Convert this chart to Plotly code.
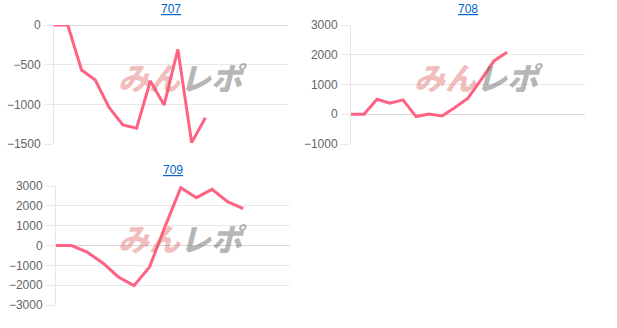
import plotly.graph_objects as go

W, H = 617, 328

titles = ["707", "708", "709"]
vals_707 = [0, 0, -567, -693, -1038, -1260, -1302, -706, -1008, -307, -1483, -1168]
vals_708 = [0, 0, 504, 370, 482, -78, 11, -56, 224, 538, 1154, 1793, 2084]
vals_709 = [0, 0, -337, -877, -1585, -2024, -1079, 978, 2917, 2411, 2833, 2209, 1855]
x_spans = [17, 18, 15]
y_ranges = [[-1500, 0], [-1000, 3000], [-3000, 3000]]
y_dticks = [500, 1000, 1000]
series = [vals_707, vals_708, vals_709]

# pixel boxes: (left, right, top, bottom)
boxes = [(54, 288, 25, 144), (351, 585, 25, 144), (56, 290, 186, 305)]
title_y = [9, 9, 170]
wm_center = [(182, 76), (478, 76), (182, 237)]

fig = go.Figure()
annotations = []
for i in range(3):
    l, r, t, b = boxes[i]
    xa = "x" if i == 0 else f"x{i+1}"
    ya = "y" if i == 0 else f"y{i+1}"
    xkey = "xaxis" if i == 0 else f"xaxis{i+1}"
    ykey = "yaxis" if i == 0 else f"yaxis{i+1}"
    fig.add_trace(go.Scatter(
        x=list(range(len(series[i]))), y=series[i], mode="lines",
        line=dict(color="#ff6384", width=3), xaxis=xa, yaxis=ya,
        cliponaxis=False, showlegend=False, hoverinfo="skip"))
    fig.layout[xkey] = dict(domain=[l / W, r / W], range=[0, x_spans[i]],
                            showgrid=False, zeroline=False, showticklabels=False,
                            showline=False, anchor=ya, fixedrange=True,
                            automargin=False)
    fig.layout[ykey] = dict(domain=[1 - b / H, 1 - t / H], range=y_ranges[i],
                            dtick=y_dticks[i], tick0=0,
                            showgrid=True, gridcolor="#e9e9e9", gridwidth=1,
                            zeroline=True, zerolinecolor="#d9d9d9", zerolinewidth=1,
                            showline=True, linecolor="#e6e6e6", linewidth=1,
                            ticks="outside", ticklen=9, tickcolor="#e9e9e9",
                            ticklabelstandoff=1,
                            tickfont=dict(family="Arial", size=12, color="#666666"),
                            anchor=xa, fixedrange=True, automargin=False)
    annotations.append(dict(
        text=titles[i], x=(l + r) / 2 / W, y=1 - title_y[i] / H,
        xref="paper", yref="paper", xanchor="center", yanchor="middle",
        showarrow=False,
        font=dict(family="Arial", size=12, color="#0066cc", lineposition="under")))
    cx, cy = wm_center[i]
    annotations.append(dict(
        text="<i><span style='color:rgba(222,95,95,0.42)'>みん</span>"
             "<span style='color:rgba(110,110,110,0.5)'>レポ</span></i>",
        x=cx / W, y=1 - cy / H, xref="paper", yref="paper",
        xanchor="center", yanchor="middle", showarrow=False,
        font=dict(family="Noto Sans CJK JP", size=31, weight=900)))

fig.update_layout(width=W, height=H, margin=dict(l=0, r=0, t=0, b=0),
                  paper_bgcolor="white", plot_bgcolor="white",
                  annotations=annotations)
fig.write_html("out.html")
